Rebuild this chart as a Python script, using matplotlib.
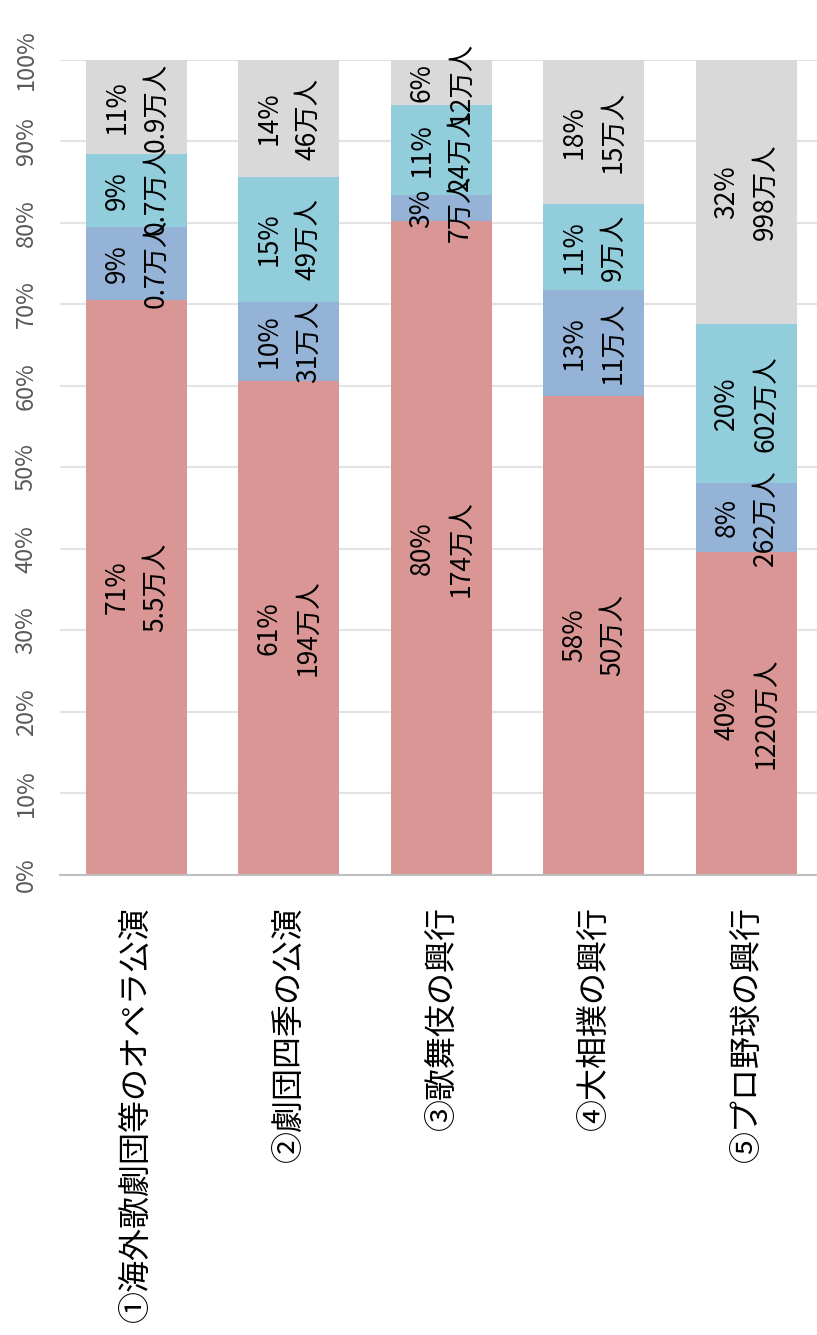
import numpy as np
import matplotlib.pyplot as plt

plt.rcParams['font.family'] = ['Noto Sans CJK JP', 'DejaVu Sans']

categories = ['①海外歌劇団等のオペラ公演', '②劇団四季の公演', '③歌舞伎の興行',
              '④大相撲の興行', '⑤プロ野球の興行']

# audience counts (万人) per segment, bottom to top
seg1 = [5.5, 194, 174, 50, 1220]
seg2 = [0.7, 31, 7, 11, 262]
seg3 = [0.7, 49, 24, 9, 602]
seg4 = [0.9, 46, 12, 15, 998]

pct1 = ['71%', '61%', '80%', '58%', '40%']
pct2 = ['9%', '10%', '3%', '13%', '8%']
pct3 = ['9%', '15%', '11%', '11%', '20%']
pct4 = ['11%', '14%', '6%', '18%', '32%']

num1 = ['5.5万人', '194万人', '174万人', '50万人', '1220万人']
num2 = ['0.7万人', '31万人', '7万人', '11万人', '262万人']
num3 = ['0.7万人', '49万人', '24万人', '9万人', '602万人']
num4 = ['0.9万人', '46万人', '12万人', '15万人', '998万人']

colors = ['#D99694', '#95B3D7', '#92CDDC', '#D9D9D9']

segs = np.array([seg1, seg2, seg3, seg4], dtype=float)
shares = segs / segs.sum(axis=0)
pcts = [pct1, pct2, pct3, pct4]
nums = [num1, num2, num3, num4]

fig = plt.figure(figsize=(8.17, 13.35), dpi=100)
ax = fig.add_axes([0.0734, 0.3446, 0.9266, 0.6105])

x = np.arange(len(categories))
bottom = np.zeros(len(categories))
for i in range(4):
    ax.bar(x, shares[i], 0.66, bottom=bottom, color=colors[i], zorder=2)
    for j in range(len(categories)):
        ax.text(x[j], bottom[j] + shares[i][j] / 2, pcts[i][j] + '\n' + nums[i][j],
                rotation=90, ha='center', va='center', multialignment='center',
                fontsize=19, linespacing=1.55, zorder=3)
    bottom += shares[i]

ax.set_xlim(-0.5, 4.464)
ax.set_ylim(0, 1)
ax.set_yticks(np.arange(0, 1.01, 0.1))
ax.set_yticklabels([f'{int(round(v * 100))}%' for v in np.arange(0, 1.01, 0.1)],
                   rotation=90, va='center', fontsize=17, color='#595959')
ax.set_xticks(x)
ax.set_xticklabels(categories, rotation=90, ha='center', va='top', fontsize=23)
ax.tick_params(axis='y', length=0, pad=16)
ax.tick_params(axis='x', length=0, pad=22)
ax.grid(axis='y', color='#E3E3E3', linewidth=1.5, zorder=0)
for s in ['top', 'right', 'left']:
    ax.spines[s].set_visible(False)
ax.spines['bottom'].set_color('#BFBFBF')
ax.spines['bottom'].set_linewidth(1.5)
ax.spines['bottom'].set_zorder(4)

fig.savefig('out.png', dpi=100)
